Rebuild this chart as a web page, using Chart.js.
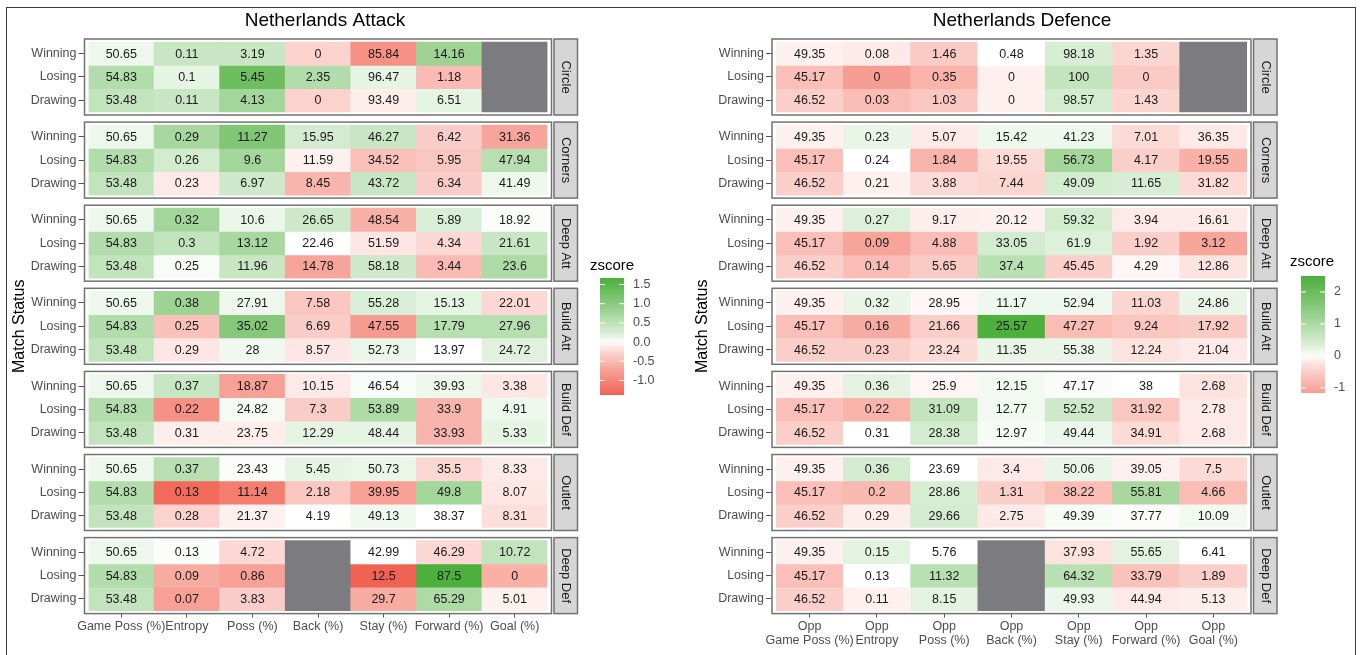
<!DOCTYPE html>
<html>
<head>
<meta charset="utf-8">
<script src="https://cdn.jsdelivr.net/npm/chart.js@4.4.0/dist/chart.umd.min.js"></script>
<style>
  body { margin: 0; background: #fff; width: 1362px; height: 655px; overflow: hidden; position: relative; }
  canvas { position: absolute; top: 0; }
  #attack { left: 0; }
  #defence { left: 681px; }
  #frame { position: absolute; left: 6px; top: 7px; width: 1348px; height: 660px; border: 1.5px solid #3c3c3c; }
</style>
</head>
<body>
<canvas id="attack" width="681" height="655"></canvas>
<canvas id="defence" width="681" height="655"></canvas>
<div id="frame"></div>
<script>
var statuses = ['Winning', 'Losing', 'Drawing'];
var facets = ['Circle', 'Corners', 'Deep Att', 'Build Att', 'Build Def', 'Outlet', 'Deep Def'];
var attackColumns = ['Game Poss (%)', 'Entropy', 'Poss (%)', 'Back (%)', 'Stay (%)', 'Forward (%)', 'Goal (%)'];
var defenceColumns = [['Opp', 'Game Poss (%)'], ['Opp', 'Entropy'], ['Opp', 'Poss (%)'], ['Opp', 'Back (%)'],
                      ['Opp', 'Stay (%)'], ['Opp', 'Forward (%)'], ['Opp', 'Goal (%)']];
var attackLegendTicks = ['1.5', '1.0', '0.5', '0.0', '-0.5', '-1.0'];
var defenceLegendTicks = ['2', '1', '0', '-1'];

// ---- Netherlands Attack: cell values (rows Winning, Losing, Drawing) ----
var attCircle   = [[50.65, 0.11, 3.19, 0, 85.84, 14.16, null], [54.83, 0.1, 5.45, 2.35, 96.47, 1.18, null], [53.48, 0.11, 4.13, 0, 93.49, 6.51, null]];
var attCorners  = [[50.65, 0.29, 11.27, 15.95, 46.27, 6.42, 31.36], [54.83, 0.26, 9.6, 11.59, 34.52, 5.95, 47.94], [53.48, 0.23, 6.97, 8.45, 43.72, 6.34, 41.49]];
var attDeepAtt  = [[50.65, 0.32, 10.6, 26.65, 48.54, 5.89, 18.92], [54.83, 0.3, 13.12, 22.46, 51.59, 4.34, 21.61], [53.48, 0.25, 11.96, 14.78, 58.18, 3.44, 23.6]];
var attBuildAtt = [[50.65, 0.38, 27.91, 7.58, 55.28, 15.13, 22.01], [54.83, 0.25, 35.02, 6.69, 47.55, 17.79, 27.96], [53.48, 0.29, 28, 8.57, 52.73, 13.97, 24.72]];
var attBuildDef = [[50.65, 0.37, 18.87, 10.15, 46.54, 39.93, 3.38], [54.83, 0.22, 24.82, 7.3, 53.89, 33.9, 4.91], [53.48, 0.31, 23.75, 12.29, 48.44, 33.93, 5.33]];
var attOutlet   = [[50.65, 0.37, 23.43, 5.45, 50.73, 35.5, 8.33], [54.83, 0.13, 11.14, 2.18, 39.95, 49.8, 8.07], [53.48, 0.28, 21.37, 4.19, 49.13, 38.37, 8.31]];
var attDeepDef  = [[50.65, 0.13, 4.72, null, 42.99, 46.29, 10.72], [54.83, 0.09, 0.86, null, 12.5, 87.5, 0], [53.48, 0.07, 3.83, null, 29.7, 65.29, 5.01]];

// ---- Netherlands Attack: zscores (fill) ----
var attCircleZ   = [[0.1, 0.4, 0.4, -0.3, -0.9, 0.8, null], [0.6, 0.15, 1.3, 0.6, 0.15, -0.5, null], [0.45, 0.4, 0.75, -0.3, -0.1, 0.15, null]];
var attCornersZ  = [[0.1, 0.7, 1.1, 0.3, 0.4, -0.35, -0.7], [0.6, 0.3, 0.75, -0.08, -0.45, -0.4, 0.55], [0.45, -0.12, 0.35, -0.55, 0.4, -0.35, 0.1]];
var attDeepAttZ  = [[0.1, 0.75, 0.12, 0.35, -0.6, 0.25, 0.02], [0.6, 0.45, 0.7, 0, -0.15, -0.25, 0.4], [0.45, 0.03, 0.4, -0.7, 0.35, -0.5, 0.65]];
var attBuildAttZ = [[0.1, 0.8, 0.1, -0.4, 0.25, 0.15, -0.25], [0.6, -0.45, 1.05, -0.35, -0.8, 0.55, 0.55], [0.45, -0.15, 0.08, -0.15, 0.12, 0, 0.2]];
var attBuildDefZ = [[0.1, 0.4, -0.75, -0.12, 0.03, 0.1, -0.15], [0.6, -0.9, 0.05, -0.35, 0.65, -0.55, 0.1], [0.45, -0.1, -0.1, 0.15, 0.15, -0.55, 0.15]];
var attOutletZ   = [[0.1, 0.55, 0.02, 0.15, 0.12, -0.25, -0.12], [0.6, -1.3, -1.1, -0.4, -0.75, 0.75, -0.15], [0.45, -0.3, -0.08, 0, 0.08, 0, -0.2]];
var attDeepDefZ  = [[0.1, 0.02, -0.25, null, 0, -0.25, 0.45], [0.6, -0.65, -0.75, null, -1.38, 1.67, -0.6], [0.45, -0.75, -0.35, null, -0.65, 0.65, -0.08]];

// ---- Netherlands Defence: cell values ----
var defCircle   = [[49.35, 0.08, 1.46, 0.48, 98.18, 1.35, null], [45.17, 0, 0.35, 0, 100, 0, null], [46.52, 0.03, 1.03, 0, 98.57, 1.43, null]];
var defCorners  = [[49.35, 0.23, 5.07, 15.42, 41.23, 7.01, 36.35], [45.17, 0.24, 1.84, 19.55, 56.73, 4.17, 19.55], [46.52, 0.21, 3.88, 7.44, 49.09, 11.65, 31.82]];
var defDeepAtt  = [[49.35, 0.27, 9.17, 20.12, 59.32, 3.94, 16.61], [45.17, 0.09, 4.88, 33.05, 61.9, 1.92, 3.12], [46.52, 0.14, 5.65, 37.4, 45.45, 4.29, 12.86]];
var defBuildAtt = [[49.35, 0.32, 28.95, 11.17, 52.94, 11.03, 24.86], [45.17, 0.16, 21.66, 25.57, 47.27, 9.24, 17.92], [46.52, 0.23, 23.24, 11.35, 55.38, 12.24, 21.04]];
var defBuildDef = [[49.35, 0.36, 25.9, 12.15, 47.17, 38, 2.68], [45.17, 0.22, 31.09, 12.77, 52.52, 31.92, 2.78], [46.52, 0.31, 28.38, 12.97, 49.44, 34.91, 2.68]];
var defOutlet   = [[49.35, 0.36, 23.69, 3.4, 50.06, 39.05, 7.5], [45.17, 0.2, 28.86, 1.31, 38.22, 55.81, 4.66], [46.52, 0.29, 29.66, 2.75, 49.39, 37.77, 10.09]];
var defDeepDef  = [[49.35, 0.15, 5.76, null, 37.93, 55.65, 6.41], [45.17, 0.13, 11.32, null, 64.32, 33.79, 1.89], [46.52, 0.11, 8.15, null, 49.93, 44.94, 5.13]];

// ---- Netherlands Defence: zscores ----
var defCircleZ   = [[-0.12, -0.18, -0.55, 0, 0.4, -0.42, null], [-0.7, -1.16, -0.85, -0.12, 0.65, -0.55, null], [-0.5, -0.72, -0.6, -0.12, 0.45, -0.42, null]];
var defCornersZ  = [[-0.12, 0.2, -0.18, 0.13, 0.13, -0.36, -0.18], [-0.7, 0, -0.85, -0.36, 1.1, -0.5, -0.9], [-0.5, -0.12, -0.36, -0.42, 0.45, 0.4, -0.36]];
var defDeepAttZ  = [[-0.12, 0.33, -0.15, -0.12, 0.45, -0.18, -0.18], [-0.7, -1.05, -0.72, 0.45, 0.33, -0.5, -1.05], [-0.5, -0.72, -0.55, 0.8, -0.5, -0.06, -0.25]];
var defBuildAttZ = [[-0.12, 0.2, -0.06, 0.13, 0.13, -0.42, 0.2], [-0.7, -0.95, -0.5, 2.5, -0.72, -0.6, -0.55], [-0.5, -0.5, -0.36, 0.2, 0.2, -0.25, -0.18]];
var defBuildDefZ = [[-0.12, 0.26, -0.06, 0.1, 0.04, 0, -0.25], [-0.7, -0.85, 0.65, 0.1, 0.52, -0.6, -0.18], [-0.5, 0, 0.45, 0.06, 0.16, -0.36, -0.18]];
var defOutletZ   = [[-0.12, 0.45, 0, -0.18, 0.2, -0.12, -0.36], [-0.7, -0.78, 0.4, -0.5, -0.72, 1.05, -0.72], [-0.5, -0.15, 0.45, -0.18, 0.06, 0.02, 0.1]];
var defDeepDefZ  = [[-0.12, 0.26, 0, null, -0.25, 0.26, 0], [-0.7, 0, 0.8, null, 0.8, -0.66, -0.5], [-0.5, -0.12, 0.26, null, 0.16, -0.18, -0.15]];

var FONT = '"Liberation Sans", Arial, sans-serif';
var ROW_PX = 23.33, PITCH_PX = 83.1, PAD_PX = 3;
var P = PITCH_PX / ROW_PX, PAD = PAD_PX / ROW_PX;
var GREEN = [77, 175, 60], RED = [238, 72, 52], NA_COLOUR = '#7c7c80';

function tileColour(z, lim) {
  if (z === null) return NA_COLOUR;
  var f = Math.pow(Math.min(1, Math.abs(z) / lim), 0.82);
  var end = z >= 0 ? GREEN : RED;
  var c = end.map(function (e) { return Math.round(255 + (e - 255) * f); });
  return 'rgb(' + c.join(',') + ')';
}

function makePanel(id, cfg) {
  var allZ = [].concat.apply([], cfg.z.map(function (f) { return [].concat.apply([], f); })).filter(function (v) { return v !== null; });
  var zMin = Math.min.apply(null, allZ), zMax = Math.max.apply(null, allZ);
  var lim = Math.max(Math.abs(zMin), Math.abs(zMax));

  var datasets = [], rowCentres = [];
  cfg.values.forEach(function (facet, k) {
    facet.forEach(function (row, r) {
      var lo = k * P + r;
      rowCentres.push(lo + 0.5);
      datasets.push({
        data: row.map(function () { return [lo, lo + 1]; }),
        backgroundColor: cfg.z[k][r].map(function (z) { return tileColour(z, lim); }),
        borderWidth: 0,
        grouped: false,
        barPercentage: 1,
        categoryPercentage: 1
      });
    });
  });

  var decorations = {
    id: 'decorations',
    beforeDatasetsDraw: function (chart) {
      var ctx = chart.ctx, a = chart.chartArea, y = chart.scales.y;
      ctx.save();
      ctx.fillStyle = '#fff';
      facets.forEach(function (f, k) {
        var t = y.getPixelForValue(k * P - PAD), b = y.getPixelForValue(k * P + 3 + PAD);
        ctx.fillRect(a.left - 4, t, a.right - a.left + 8, b - t);
      });
      ctx.restore();
    },
    afterDatasetsDraw: function (chart) {
      var ctx = chart.ctx, a = chart.chartArea, y = chart.scales.y;
      ctx.save();
      // cell labels
      ctx.font = '12.5px ' + FONT;
      ctx.fillStyle = '#1a1a1a';
      ctx.textAlign = 'center';
      ctx.textBaseline = 'middle';
      chart.data.datasets.forEach(function (ds, i) {
        var k = Math.floor(i / 3), r = i % 3;
        chart.getDatasetMeta(i).data.forEach(function (el, j) {
          var v = cfg.values[k][r][j];
          if (v === null) return;
          ctx.fillText(String(v), el.x, (el.y + el.base) / 2 + 0.5);
        });
      });
      // facet borders and strips
      facets.forEach(function (name, k) {
        var t = y.getPixelForValue(k * P - PAD), b = y.getPixelForValue(k * P + 3 + PAD);
        ctx.strokeStyle = '#727272';
        ctx.lineWidth = 1.5;
        ctx.strokeRect(a.left - 4, t, a.right - a.left + 8, b - t);
        var sx = a.right + 6.5;
        ctx.fillStyle = '#d6d6d6';
        ctx.fillRect(sx, t, 23.5, b - t);
        ctx.strokeRect(sx, t, 23.5, b - t);
        ctx.save();
        ctx.translate(sx + 11.75, (t + b) / 2);
        ctx.rotate(Math.PI / 2);
        ctx.fillStyle = '#1a1a1a';
        ctx.font = '13px ' + FONT;
        ctx.textAlign = 'center';
        ctx.textBaseline = 'middle';
        ctx.fillText(name, 0, 0);
        ctx.restore();
      });
      // title
      ctx.fillStyle = '#000';
      ctx.font = '19px ' + FONT;
      ctx.textAlign = 'center';
      ctx.textBaseline = 'middle';
      ctx.fillText(cfg.title, cfg.titleX, 21);
      // y axis title
      ctx.save();
      ctx.translate(cfg.yTitleX, (a.top + a.bottom) / 2);
      ctx.rotate(-Math.PI / 2);
      ctx.font = '16px ' + FONT;
      ctx.fillText('Match Status', 0, 0);
      ctx.restore();
      // colour bar legend
      var L = cfg.legend;
      ctx.textAlign = 'left';
      ctx.font = '15px ' + FONT;
      ctx.fillText('zscore', L.titleX, L.titleY);
      var grad = ctx.createLinearGradient(0, L.top, 0, L.bottom);
      for (var s = 0; s <= 30; s++) {
        grad.addColorStop(s / 30, tileColour(zMax - s / 30 * (zMax - zMin), lim));
      }
      ctx.fillStyle = grad;
      ctx.fillRect(L.x, L.top, 24, L.bottom - L.top);
      ctx.font = '12.5px ' + FONT;
      ctx.fillStyle = '#4d4d4d';
      ctx.strokeStyle = '#fff';
      ctx.lineWidth = 1;
      cfg.legendTicks.forEach(function (lab) {
        var v = parseFloat(lab);
        var py = L.top + (zMax - v) / (zMax - zMin) * (L.bottom - L.top);
        ctx.beginPath();
        ctx.moveTo(L.x, py); ctx.lineTo(L.x + 5, py);
        ctx.moveTo(L.x + 19, py); ctx.lineTo(L.x + 24, py);
        ctx.stroke();
        ctx.fillText(lab, L.x + 33, py);
      });
      ctx.restore();
    }
  };

  var axisTop = 39, axisBottom = 39 + 6 * PITCH_PX + 76;
  return new Chart(document.getElementById(id), {
    type: 'bar',
    data: { labels: cfg.columns, datasets: datasets },
    options: {
      responsive: false,
      animation: false,
      devicePixelRatio: 1,
      layout: { padding: { left: 0, top: axisTop, right: 681 - cfg.tileRight, bottom: 655 - axisBottom - cfg.xHeight } },
      plugins: { legend: { display: false }, tooltip: { enabled: false } },
      scales: {
        x: {
          type: 'category',
          offset: true,
          afterFit: function (s) { s.height = cfg.xHeight; },
          grid: { drawOnChartArea: false, drawTicks: true, tickLength: 4, color: '#555', offset: false },
          border: { display: false },
          ticks: { autoSkip: false, maxRotation: 0, minRotation: 0, padding: 2, color: '#4d4d4d',
                   font: { family: FONT, size: 12.5, lineHeight: 1.1 } }
        },
        y: {
          type: 'linear',
          reverse: true,
          min: -PAD,
          max: 6 * P + 3 + PAD,
          afterBuildTicks: function (s) { s.ticks = rowCentres.map(function (v) { return { value: v }; }); },
          afterFit: function (s) { s.width = cfg.tileLeft; },
          grid: { drawOnChartArea: false, drawTicks: true, tickLength: 10, color: '#555' },
          border: { display: false },
          ticks: { autoSkip: false, padding: 2, color: '#4d4d4d', font: { family: FONT, size: 12.5 },
                   callback: function (v, i) { return statuses[i % 3]; } }
        }
      }
    },
    plugins: [decorations]
  });
}

makePanel('attack', {
  title: 'Netherlands Attack', titleX: 325, yTitleX: 20,
  columns: attackColumns,
  values: [attCircle, attCorners, attDeepAtt, attBuildAtt, attBuildDef, attOutlet, attDeepDef],
  z: [attCircleZ, attCornersZ, attDeepAttZ, attBuildAttZ, attBuildDefZ, attOutletZ, attDeepDefZ],
  legendTicks: attackLegendTicks,
  tileLeft: 88.5, tileRight: 547.5, xHeight: 30,
  legend: { x: 600, top: 278, bottom: 395, titleX: 590, titleY: 266 }
});

makePanel('defence', {
  title: 'Netherlands Defence', titleX: 341, yTitleX: 22,
  columns: defenceColumns,
  values: [defCircle, defCorners, defDeepAtt, defBuildAtt, defBuildDef, defOutlet, defDeepDef],
  z: [defCircleZ, defCornersZ, defDeepAttZ, defBuildAttZ, defBuildDefZ, defOutletZ, defDeepDefZ],
  legendTicks: defenceLegendTicks,
  tileLeft: 95, tileRight: 566, xHeight: 40,
  legend: { x: 620, top: 276, bottom: 393, titleX: 609, titleY: 262 }
});
</script>
</body>
</html>
